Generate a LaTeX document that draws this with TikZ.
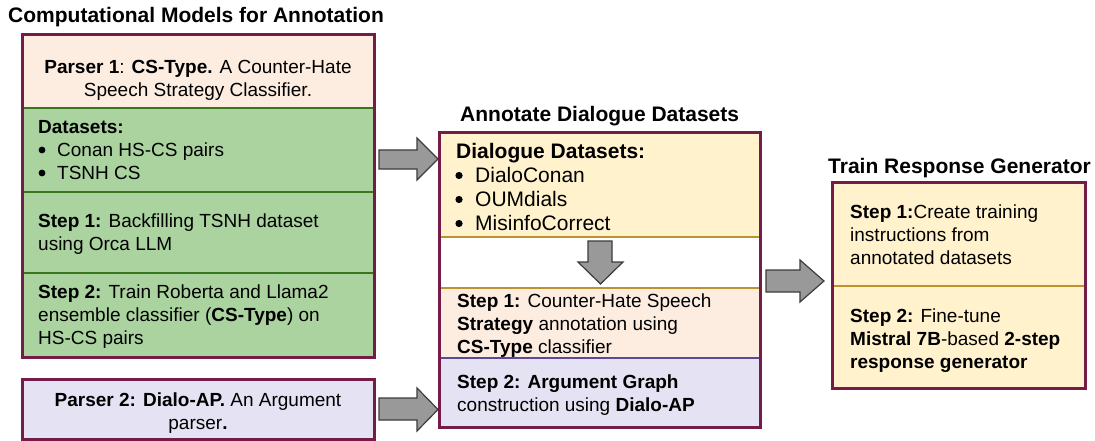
\documentclass[tikz,border=0pt]{standalone}
\usepackage{fontspec}
\setmainfont{Liberation Sans}
\definecolor{maroon}{HTML}{741B47}
\definecolor{pinkfill}{HTML}{FDEDE1}
\definecolor{greenfill}{HTML}{AAD3A0}
\definecolor{greenline}{HTML}{38761D}
\definecolor{yellowfill}{HTML}{FFF2CC}
\definecolor{orangeline}{HTML}{C0912F}
\definecolor{purplefill}{HTML}{E5E2F3}
\definecolor{purpleline}{HTML}{5B4A9A}
\definecolor{arrowfill}{HTML}{999999}
\definecolor{arrowdraw}{HTML}{3C3C3C}
\tikzset{
  outerbox/.style={draw=maroon, line width=3pt},
  divider/.style={line width=1.8pt},
  txt/.style={anchor=north west, inner sep=0pt, align=left, font=\fontsize{19}{23}\selectfont},
  ctxt/.style={anchor=north, inner sep=0pt, align=center, font=\fontsize{19}{23}\selectfont},
  bigtxt/.style={anchor=north west, inner sep=0pt, align=left, font=\fontsize{21}{24}\selectfont},
  ttl/.style={anchor=base west, inner sep=0pt, font=\fontsize{21}{24}\selectfont\bfseries},
  blockarrow/.style={fill=arrowfill, draw=arrowdraw, line width=1.2pt, line join=miter},
  bulletdot/.style={fill=black},
}
\begin{document}
\begin{tikzpicture}[x=1pt,y=-1pt]
\useasboundingbox (0,0) rectangle (1095,441);

% ---------- Left box ----------
\fill[pinkfill] (22,35) rectangle (374,108);
\fill[greenfill] (22,108) rectangle (374,357);
\draw[greenline,divider] (22,108) -- (374,108);
\draw[greenline,divider] (22,192) -- (374,192);
\draw[greenline,divider] (22,273) -- (374,273);
\draw[outerbox] (22,35) rectangle (374,357);

\node[ttl] (t1) at (8,23) {Computational Models for Annotation};

\node[ctxt] (p1) at (198,57) {\strut\textbf{Parser 1}: \textbf{CS-Type.} A Counter-Hate\\Speech Strategy Classifier.};
\node[txt] (ds) at (38,117) {\strut\textbf{Datasets:}\\\hspace*{19pt}Conan HS-CS pairs\\\hspace*{19pt}TSNH CS};
\fill[bulletdot] (42,150) circle (3.4);
\fill[bulletdot] (42,173) circle (3.4);
\node[txt] (ls1) at (38,211) {\strut\textbf{Step 1:} Backfilling TSNH dataset\\using Orca LLM};
\node[txt] (ls2) at (38,282) {\strut\textbf{Step 2:} Train Roberta and Llama2\\ensemble classifier (\textbf{CS-Type}) on\\HS-CS pairs};

% ---------- Parser 2 box ----------
\fill[purplefill] (22,379) rectangle (374,439);
\draw[outerbox] (22,379) rectangle (374,439);
\node[ctxt] (p2) at (198,390) {\strut\textbf{Parser 2: Dialo-AP.} An Argument\\parser\textbf{.}};

% ---------- Middle box ----------
\fill[yellowfill] (439,133) rectangle (760,237);
\fill[white] (439,237) rectangle (760,288);
\fill[pinkfill] (439,288) rectangle (760,358);
\fill[purplefill] (439,358) rectangle (760,427);
\draw[orangeline,divider] (439,237) -- (760,237);
\draw[orangeline,divider] (439,288) -- (760,288);
\draw[purpleline,divider] (439,358) -- (760,358);
\draw[outerbox] (439,133) rectangle (760,427);

\node[ttl] (t2) at (460,122) {Annotate Dialogue Datasets};
\node[bigtxt] (dd) at (456,141) {\strut\textbf{Dialogue Datasets:}\\\hspace*{19pt}DialoConan\\\hspace*{19pt}OUMdials\\\hspace*{19pt}MisinfoCorrect};
\fill[bulletdot] (459,175.5) circle (3.6);
\fill[bulletdot] (459,199.5) circle (3.6);
\fill[bulletdot] (459,223.5) circle (3.6);
\node[txt] (ms1) at (457,291) {\strut\textbf{Step 1:} Counter-Hate Speech\\\textbf{Strategy} annotation using\\\textbf{CS-Type} classifier};
\node[txt] (ms2) at (457,372) {\strut\textbf{Step 2: Argument Graph}\\construction using \textbf{Dialo-AP}};

% ---------- Right box ----------
\fill[yellowfill] (832,182) rectangle (1085,388);
\draw[orangeline,divider] (832,286) -- (1085,286);
\draw[outerbox] (832,182) rectangle (1085,388);

\node[ttl] (t3) at (828,173) {Train Response Generator};
\node[txt] (rs1) at (850,202) {\strut\textbf{Step 1:}Create training\\instructions from\\annotated datasets};
\node[txt] (rs2) at (850,306) {\strut\textbf{Step 2:} Fine-tune\\\textbf{Mistral 7B}-based \textbf{2-step}\\\textbf{response generator}};

% ---------- Block arrows ----------
\draw[blockarrow] (379,150) -- (417,150) -- (417,138) -- (438,159) -- (417,180) -- (417,169) -- (379,169) -- cycle;
\draw[blockarrow] (379,398) -- (417,398) -- (417,388) -- (438,409.5) -- (417,431) -- (417,420) -- (379,420) -- cycle;
\draw[blockarrow] (588,241) -- (612,241) -- (612,262) -- (623,262) -- (600.5,284) -- (578,262) -- (588,262) -- cycle;
\draw[blockarrow] (766,270) -- (800,270) -- (800,260) -- (824,281) -- (800,302) -- (800,292) -- (766,292) -- cycle;
\end{tikzpicture}
\end{document}
